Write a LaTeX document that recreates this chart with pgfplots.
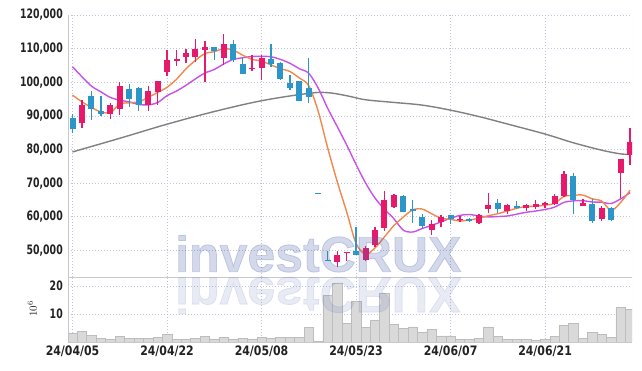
\documentclass[border=0pt]{standalone}
\usepackage{fontspec}
\setmainfont{DejaVu Sans}
\newfontfamily\tickfont{DejaVu Sans}[FakeStretch=0.72]
\newfontfamily\xtickfont{DejaVu Sans}[FakeStretch=0.84]
\newfontfamily\wmfont{Liberation Sans}[FakeBold=1.6]
\usepackage{pgfplots}
\usepackage{pgfplotstable}
\pgfplotsset{compat=1.18}

\definecolor{upc}{HTML}{E6196A}
\definecolor{dnc}{HTML}{2D96C8}
\definecolor{mafive}{HTML}{F0884C}
\definecolor{maten}{HTML}{C850EB}
\definecolor{malong}{HTML}{808080}
\definecolor{gridc}{HTML}{BFC4DA}
\definecolor{axc}{HTML}{C8C8D0}
\definecolor{volf}{HTML}{D9D9D9}
\definecolor{vold}{HTML}{BDBDBD}
\definecolor{wm}{RGB}{79,99,171}
\definecolor{txt}{HTML}{222222}

% up (red) candles: i open high low close
\pgfplotstableread{
i o h l c
1 87900 94700 86300 93100
4 90600 93900 89200 93100
5 92100 100100 90400 98800
8 93100 98900 91600 97400
9 97000 100400 93200 100300
10 103100 109600 101800 106600
11 106300 109600 104900 106900
12 107600 110000 105600 108800
13 107400 112800 106100 109900
14 109700 112400 100100 110500
16 107100 114300 105100 111400
19 103800 108100 103400 104200
20 104100 108100 100800 107100
28 46700 49800 45000 48500
29 49100 49600 47000 49500
31 47200 51300 46800 50800
32 51500 56900 51000 56100
33 56600 67600 55900 64900
34 62900 66900 62700 66400
38 56200 58900 54700 57900
39 58400 60600 56900 59900
41 59000 60200 58400 59400
43 58100 60800 57900 60600
44 62200 67200 61200 63600
46 61600 63700 60900 63400
48 62600 63900 61700 63400
49 62900 64900 62400 63700
50 63400 64400 62700 64200
51 63900 66900 63600 66100
52 66100 73600 65900 72800
54 63200 65300 63100 64100
56 59300 63100 58700 62700
58 73100 77200 65700 77100
59 78500 86300 75300 82100
}\up

% down (blue) candles
\pgfplotstableread{
i o h l c
0 89300 90700 84900 86100
2 95900 97400 88900 91900
3 91400 95800 90000 90700
6 97900 99400 92700 95000
7 98200 98500 91400 93200
15 110500 110600 106600 109400
17 111400 112600 106100 106600
18 105400 107100 102400 102400
21 106900 111300 104400 105400
22 105800 105900 100600 101100
23 99800 102100 97700 98200
24 100400 100500 94400 94500
25 98200 107100 93700 95700
26 67200 67200 66800 66800
27 47300 49800 46900 46900
30 49800 57100 48700 48700
35 66100 66600 61300 61300
36 62400 65000 58200 61700
37 59800 60900 56400 57200
40 60400 60600 57900 59400
42 59400 59500 58400 58600
45 64200 65400 61200 62400
47 63100 64600 62400 62600
53 72000 73000 60900 65100
55 63900 65400 58100 58600
57 62700 62800 58700 58900
}\down

% moving averages
\pgfplotstableread{
i m5 m10
0 96170 104600
1 94170 101620
2 92500 98850
3 91190 97150
4 90980 95480
5 93520 94680
6 93900 94170
7 94160 93400
8 95500 93280
9 96940 93960
10 98500 96010
11 100880 97390
12 104000 99080
13 106500 101000
14 108540 102740
15 109100 103800
16 110000 105440
17 109560 106780
18 108060 107280
19 106800 107670
20 106340 107720
21 105140 107570
22 104040 106800
23 103200 105630
24 101260 104030
25 98980 102660
26 91300 98220
27 80460 92250
28 70520 86860
29 61520 81390
30 52120 75550
31 48880 70090
32 50720 65590
33 54000 62260
34 57380 59450
35 59900 56010
36 62080 55480
37 62300 56510
38 60900 57450
39 59600 58490
40 59220 59560
41 58760 60420
42 59040 60670
43 59580 60240
44 60320 59960
45 60920 60070
46 61720 60240
47 62520 60780
48 63080 61330
49 63100 61710
50 63460 62190
51 64000 62860
52 66040 64280
53 66380 64730
54 66460 64780
55 65340 64400
56 64660 64330
57 61880 63960
58 64280 65330
59 67880 67170
}\ma

\pgfplotstableread{
i g
0 79280
5 83350
10 87530
15 91300
20 94500
25 96700
27 96900
29 96000
31 94800
34 94000
37 93200
40 91700
43 89800
46 87600
50 84600
53 82000
56 79800
58 78700
59 78600
}\malong

\pgfplotstableread{
i v
0 3.3
1 3.9
2 2.4
3 1.3
4 0.9
5 2.1
6 1.3
7 1.3
8 1.3
9 1.6
10 2.8
11 0.9
12 0.9
13 1.3
14 2.1
15 1.1
16 1.6
17 1.1
18 1.3
19 1.1
20 1.6
21 1.3
22 1.6
23 1.6
24 1.6
25 5.2
26 0.2
27 16.6
28 20.8
29 6.6
30 14.6
31 5.2
32 7.8
33 17.3
34 6.3
35 4.9
36 5.4
37 3.4
38 4.5
39 2.2
40 2.2
41 1.0
42 1.0
43 1.3
44 5.4
45 1.9
46 1.0
47 1.0
48 1.0
49 0.5
50 1.0
51 1.9
52 6.0
53 6.6
54 1.3
55 3.4
56 2.7
57 1.7
58 12.3
59 11.6
}\vol

\begin{document}
\begin{tikzpicture}
\useasboundingbox (0,0) rectangle (642pt,371pt);
\pgfplotsset{
  common/.style={
    scale only axis, width=563.7pt,
    xmin=-0.45, xmax=59.2,
    xtick={0,10,20,30,40,50},
    grid=major,
    grid style={gridc, dash pattern=on 1pt off 2pt, line width=0.6pt},
    major tick length=0pt,
    axis x line*=bottom, axis y line*=left,
    axis line style={axc, line width=0.8pt, -},
    tick label style={text=txt},
    /pgf/number format/assume math mode=true,
    yticklabel style={font=\tickfont\bfseries\fontsize{13}{13}\selectfont, xshift=-2pt,
      /pgf/number format/fixed, /pgf/number format/precision=0,
      /pgf/number format/1000 sep={,}},
  }
}
\begin{axis}[common, at={(68.3pt,94pt)}, anchor=south west, height=262pt,
  ymin=42100, ymax=120000, ytick={50000,60000,...,120000},
  xticklabels={}, scaled y ticks=false]
  \addplot[malong, line width=1.4pt, smooth, tension=0.6] table[x=i,y=g]{\malong};
  \addplot[maten, line width=1.4pt, smooth, tension=0.5] table[x=i,y=m10]{\ma};
  \addplot[mafive, line width=1.4pt, smooth, tension=0.5] table[x=i,y=m5]{\ma};
  % wicks
  \addplot[draw=none, mark=none, forget plot,
    error bars/.cd, y dir=plus, y explicit, error mark=none,
    error bar style={draw=upc, line width=1.3pt}]
    table[x=i, y=l, y error expr=\thisrow{h}-\thisrow{l}]{\up};
  \addplot[draw=none, mark=none, forget plot,
    error bars/.cd, y dir=plus, y explicit, error mark=none,
    error bar style={draw=dnc, line width=1.3pt}]
    table[x=i, y=l, y error expr=\thisrow{h}-\thisrow{l}]{\down};
  % bodies
  \addplot[draw=none, mark=none, forget plot,
    error bars/.cd, y dir=plus, y explicit, error mark=none,
    error bar style={draw=upc, line width=6pt}]
    table[x=i, y=o, y error expr=\thisrow{c}-\thisrow{o}]{\up};
  \addplot[draw=none, mark=none, forget plot,
    error bars/.cd, y dir=plus, y explicit, error mark=none,
    error bar style={draw=dnc, line width=6pt}]
    table[x=i, y=c, y error expr=\thisrow{o}-\thisrow{c}]{\down};
  \draw[gridc, dash pattern=on 1pt off 2pt, line width=0.6pt] (rel axis cs:1,0) -- (rel axis cs:1,1);
\end{axis}

\begin{axis}[common, at={(68.3pt,29pt)}, anchor=south west, height=65pt,
  ymin=0, ymax=23.2, ytick={10,20},
  xticklabels={24/04/05,24/04/22,24/05/08,24/05/23,24/06/07,24/06/21},
  xticklabel style={font=\xtickfont\bfseries\fontsize{13}{13}\selectfont},
  ylabel={$10^6$},
  ylabel style={at={(axis description cs:-0.064,0.51)}, anchor=center, text=txt, font=\fontsize{11}{11}\selectfont}]
  \addplot[ybar, bar width=1, fill=volf, draw=vold, line width=0.5pt] table[x=i,y=v]{\vol};
  \draw[gridc, dash pattern=on 1pt off 2pt, line width=0.6pt] (rel axis cs:1,0) -- (rel axis cs:1,1);
\end{axis}

% watermark and its reflection
\node[anchor=base west, inner sep=0pt, text=wm, opacity=0.25,
  font=\wmfont\bfseries\fontsize{50}{50}\selectfont] at (175pt,99.3pt) {investCRUX};
\node[anchor=base west, inner sep=0pt, text=wm, opacity=0.13, yscale=-1,
  font=\wmfont\bfseries\fontsize{50}{50}\selectfont] at (175pt,93.3pt) {investCRUX};
\end{tikzpicture}
\end{document}
